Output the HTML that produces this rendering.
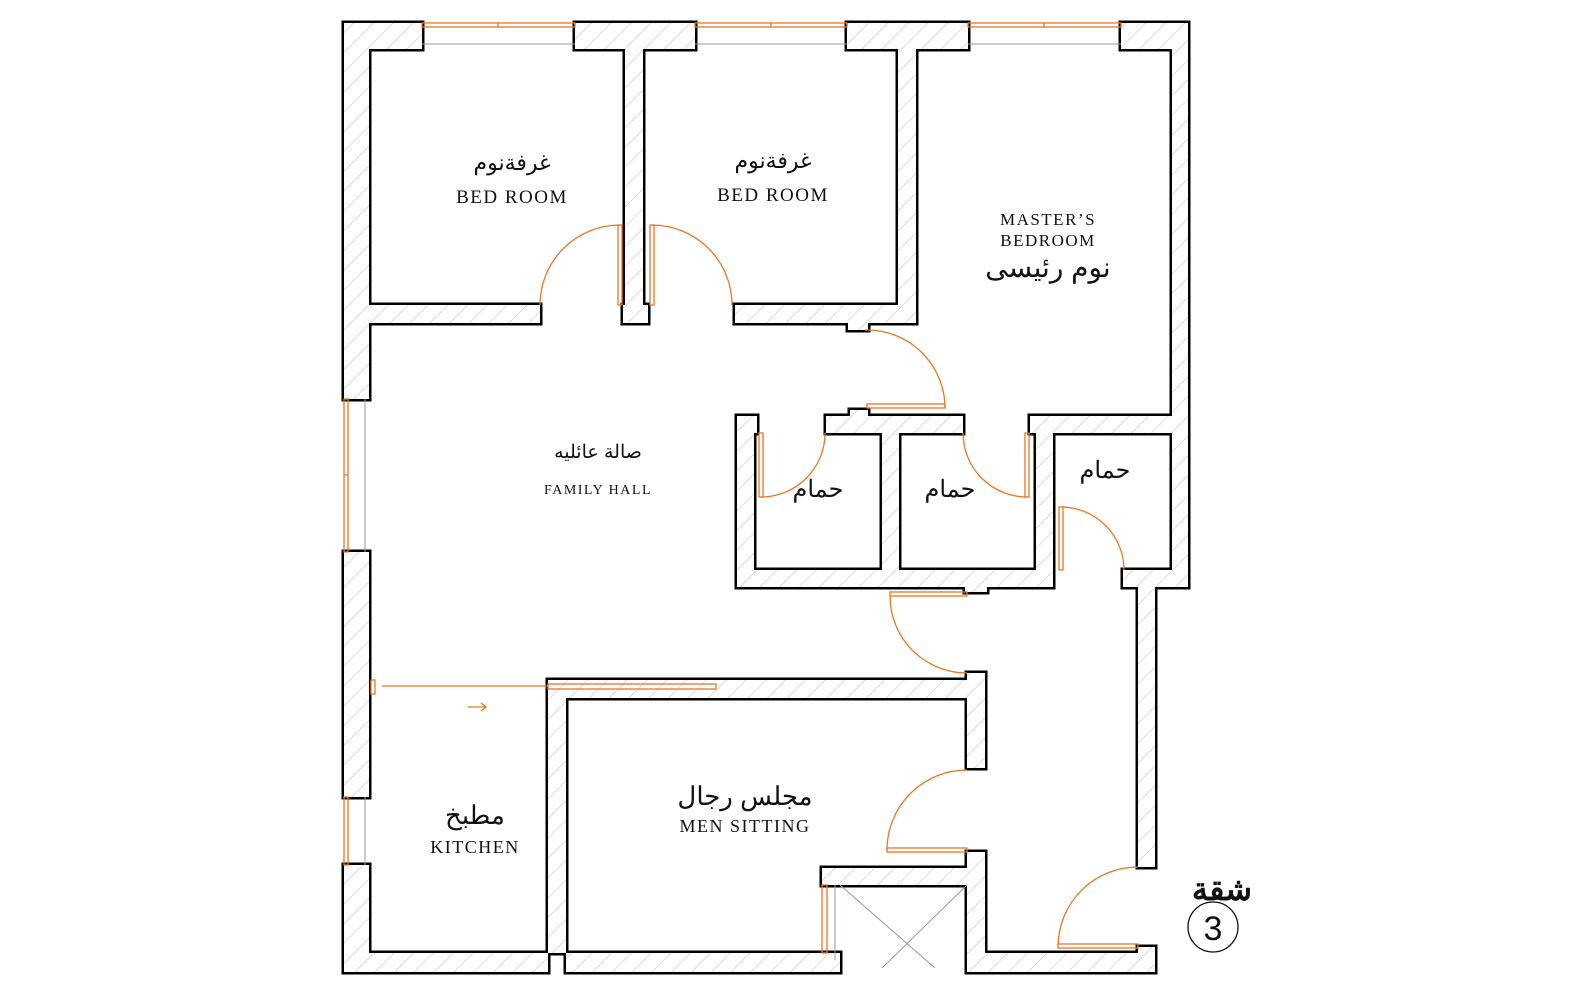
<!DOCTYPE html>
<html><head><meta charset="utf-8"><style>
html,body{margin:0;padding:0;background:#fff;width:1591px;height:1000px;overflow:hidden}
svg{display:block}
.en{font-family:"Liberation Serif",serif;fill:#111;text-anchor:middle;letter-spacing:1.5px}
.ar{font-family:"Liberation Sans","Noto Sans CJK SC",sans-serif;fill:#111;text-anchor:middle}
</style></head><body>
<svg width="1591" height="1000" viewBox="0 0 1591 1000" xmlns="http://www.w3.org/2000/svg">
<defs>
<pattern id="h" patternUnits="userSpaceOnUse" width="14" height="14" patternTransform="rotate(45)">
<rect width="14" height="14" fill="#fff"/>
<line x1="0" y1="0" x2="0" y2="14" stroke="#c4c4c4" stroke-width="1.2"/>
</pattern>
<g id="walls">
<rect x="344" y="23" width="78" height="26"/>
<rect x="575" y="23" width="120" height="26"/>
<rect x="847" y="23" width="121" height="26"/>
<rect x="1121" y="23" width="67" height="26"/>
<rect x="344" y="23" width="25" height="376"/>
<rect x="344" y="552" width="25" height="245"/>
<rect x="344" y="865" width="25" height="107"/>
<rect x="369" y="305" width="171" height="18"/>
<rect x="625" y="49" width="18" height="256"/>
<rect x="623" y="305" width="25" height="18"/>
<rect x="735" y="305" width="181" height="18"/>
<rect x="898" y="49" width="18" height="274"/>
<rect x="848" y="323" width="20" height="7"/>
<rect x="1172" y="49" width="16" height="538"/>
<rect x="1030" y="416" width="158" height="17"/>
<rect x="737" y="416" width="17" height="171"/>
<rect x="737" y="416" width="20" height="17"/>
<rect x="826" y="416" width="137" height="17"/>
<rect x="850" y="410" width="18" height="6"/>
<rect x="882" y="433" width="17" height="137"/>
<rect x="1036" y="416" width="17" height="171"/>
<rect x="737" y="570" width="316" height="17"/>
<rect x="965" y="587" width="22" height="5"/>
<rect x="1123" y="570" width="65" height="17"/>
<rect x="1138" y="587" width="17" height="280"/>
<rect x="967" y="673" width="18" height="95"/>
<rect x="548" y="680" width="437" height="18"/>
<rect x="548" y="680" width="18" height="273"/>
<rect x="967" y="852" width="18" height="120"/>
<rect x="822" y="868" width="163" height="17"/>
<rect x="822" y="953" width="18" height="19"/>
<rect x="369" y="953" width="179" height="19"/>
<rect x="566" y="953" width="256" height="19"/>
<rect x="985" y="953" width="153" height="19"/>
<rect x="1138" y="947" width="17" height="25"/>
</g>
</defs>
<use href="#walls" fill="#000" stroke="#000" stroke-width="5"/>
<use href="#walls" fill="url(#h)" stroke="none"/>

<g fill="none" stroke="#e87722" stroke-width="1.3">
<rect x="422" y="23" width="153" height="4"/><line x1="498" y1="23" x2="498" y2="27"/>
<rect x="695" y="23" width="152" height="4"/><line x1="771" y1="23" x2="771" y2="27"/>
<rect x="968" y="23" width="153" height="4"/><line x1="1044" y1="23" x2="1044" y2="27"/>
<rect x="344" y="399" width="4" height="153"/><line x1="344" y1="475" x2="348" y2="475"/>
<rect x="344" y="797" width="4" height="68"/>
<rect x="822" y="885" width="5" height="68"/>
<rect x="618" y="225" width="4" height="80"/><path d="M620 225 A80 80 0 0 0 540 305"/>
<rect x="650" y="225" width="4" height="80"/><path d="M652 225 A80 80 0 0 1 732 305"/>
<rect x="867" y="404" width="78" height="4"/><path d="M865 330 A78 78 0 0 1 945 408"/>
<rect x="759" y="433" width="4" height="64"/><path d="M761 497 A64 64 0 0 0 825 433"/>
<rect x="1025" y="433" width="4" height="64"/><path d="M963 433 A64 64 0 0 0 1027 497"/>
<rect x="1059" y="507" width="4" height="63"/><path d="M1061 507 A63 63 0 0 1 1124 570"/>
<rect x="890" y="592" width="77" height="4"/><path d="M890 596 A77 77 0 0 0 967 673"/>
<rect x="887" y="848" width="80" height="4"/><path d="M967 770 A80 80 0 0 0 887 850"/>
<rect x="1058" y="944" width="80" height="4"/><path d="M1138 867 A80 80 0 0 0 1058 946"/>
<line x1="382" y1="686" x2="548" y2="686"/>
<rect x="371" y="680" width="4" height="14"/>
<rect x="548" y="684" width="168" height="5"/>
<path d="M468 707 H486 M481 703 L486 707 L481 711"/>
</g>
<g stroke="#999" stroke-width="1" fill="none">
<line x1="422" y1="44" x2="575" y2="44"/>
<line x1="695" y1="44" x2="847" y2="44"/>
<line x1="968" y1="44" x2="1121" y2="44"/>
<line x1="365" y1="399" x2="365" y2="552"/>
<line x1="365" y1="797" x2="365" y2="865"/>
<line x1="835" y1="885" x2="835" y2="960"/>
<line x1="840" y1="885" x2="935" y2="968"/>
<line x1="967" y1="885" x2="882" y2="968"/>
</g>

<text class="ar" x="512" y="170" font-size="22">غرفةنوم</text>
<text class="en" x="512" y="203" font-size="19">BED  ROOM</text>
<text class="ar" x="773" y="168" font-size="22">غرفةنوم</text>
<text class="en" x="773" y="201" font-size="19">BED  ROOM</text>
<text class="en" x="1048" y="225" font-size="17">MASTER’S</text>
<text class="en" x="1048" y="246" font-size="17">BEDROOM</text>
<text class="ar" x="1048" y="277" font-size="28">نوم رئيسى</text>
<text class="ar" x="598" y="458" font-size="19">صالة عائليه</text>
<text class="en" x="598" y="494" font-size="14">FAMILY  HALL</text>
<text class="ar" x="818" y="497" font-size="24">حمام</text>
<text class="ar" x="950" y="497" font-size="24">حمام</text>
<text class="ar" x="1105" y="478" font-size="24">حمام</text>
<text class="ar" x="475" y="824" font-size="26">مطبخ</text>
<text class="en" x="475" y="853" font-size="18">KITCHEN</text>
<text class="ar" x="745" y="805" font-size="26">مجلس رجال</text>
<text class="en" x="745" y="832" font-size="18">MEN  SITTING</text>
<text class="ar" x="1222" y="900" font-size="32" font-weight="bold">شقة</text>
<circle cx="1213" cy="927" r="25" fill="none" stroke="#111" stroke-width="1.3"/>
<text x="1213" y="940" font-size="34" text-anchor="middle" font-family="Liberation Sans,sans-serif" fill="#111">3</text>
</svg>
</body></html>
